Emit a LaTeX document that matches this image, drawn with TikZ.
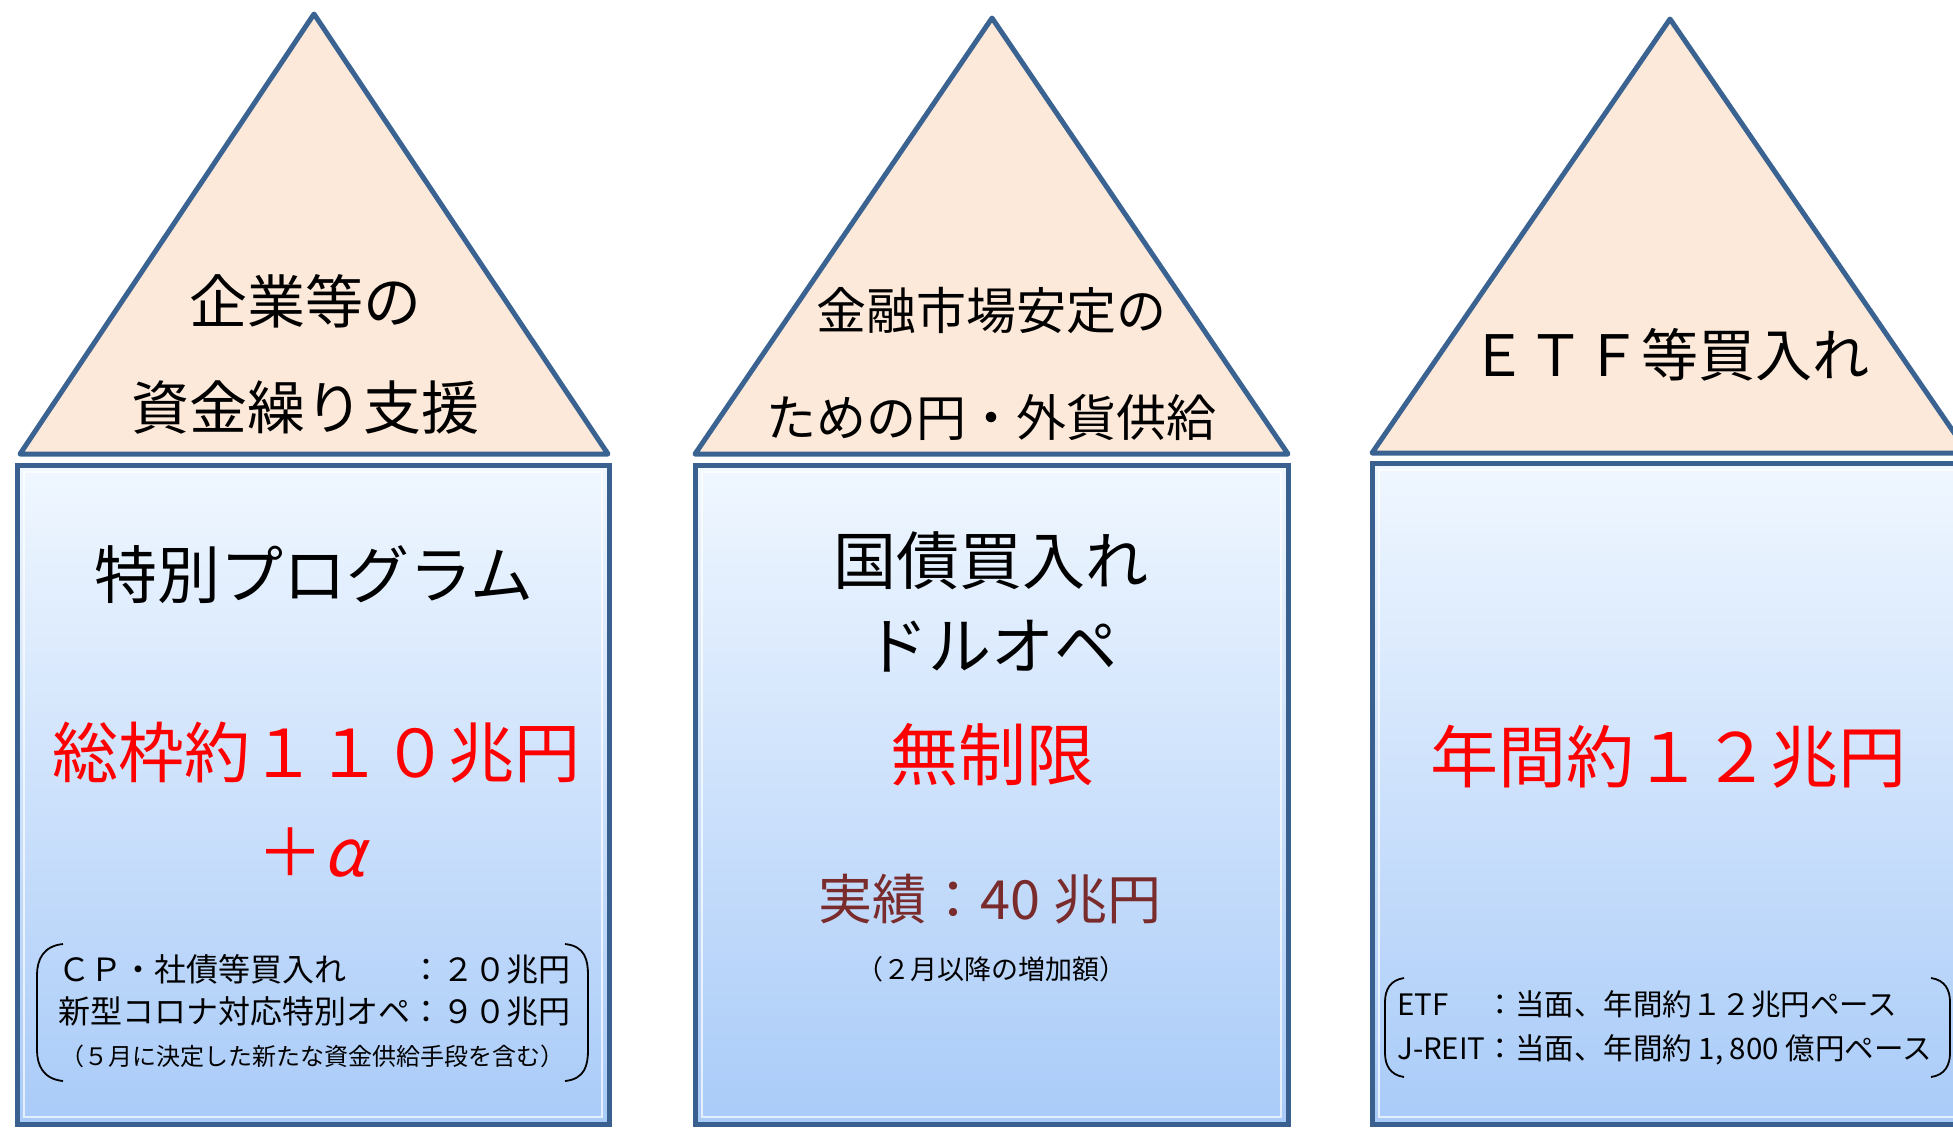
\documentclass[tikz,border=0pt]{standalone}
\usepackage{fontspec}
\newfontfamily\cjk{Noto Sans CJK JP}
\newfontfamily\cjkslant{Noto Sans CJK JP}[FakeSlant=0.25]
\usetikzlibrary{calc}
\definecolor{roofpink}{HTML}{FDE9D9}
\definecolor{roofline}{HTML}{3B6392}
\definecolor{pillartop}{HTML}{F0F7FF}
\definecolor{pillarbot}{HTML}{A9CBF8}
\definecolor{pillarline}{HTML}{3A6090}
\definecolor{amountred}{HTML}{FF0000}
\definecolor{resultred}{HTML}{7A2B2B}
\tikzset{
  roof/.style={fill=roofpink, draw=roofline, line width=5pt, line join=round},
  pillar/.style={top color=pillartop, bottom color=pillarbot, draw=pillarline, line width=5pt},
  bevel/.style={draw=white, line width=2pt, opacity=.7},
  brace/.style={draw=black, line width=1.8pt},
  txt/.style 2 args={inner sep=0pt, align=center, font={\cjk\fontsize{#1}{#2}\selectfont}}
}

\begin{document}
\begin{tikzpicture}[x=1pt,y=-1pt]
  \useasboundingbox (0,0) rectangle (1953,1128);
  \clip (0,0) rectangle (1953,1128);

  % roofs
  \draw[roof] (20,454) -- (314,14) -- (608,454) -- cycle;
  \draw[roof] (695,454) -- (992,18) -- (1288,454) -- cycle;
  \draw[roof] (1372,453) -- (1670,19) -- (1968,453) -- cycle;

  % pillars
  \draw[pillar] (17,465) rectangle (609,1124);
  \draw[pillar] (695,465) rectangle (1288,1124);
  \draw[pillar] (1372,463) rectangle (1980,1124);
  \draw[bevel] (24,472) rectangle (602,1117);
  \draw[bevel] (702,472) rectangle (1281,1117);
  \draw[bevel] (1379,470) rectangle (1980,1117);

  % roof texts
  \node[txt={58}{106}] (aim1) at (305,354) {企業等の\\資金繰り支援};
  \node[txt={50}{107}] (aim2) at (991,364) {金融市場安定の\\ための円・外貨供給};
  \node[txt={57}{57}] (aim3) at (1670,355) {ＥＴＦ等買入れ};

  % left pillar
  \node[txt={63}{63}] (prog) at (314,575) {特別プログラム};
  \node[txt={66}{66}, text=amountred] (size1) at (316,753) {総枠約１１０兆円};
  \node[txt={66}{66}, text=amountred] (plus1) at (311,853) {＋{\cjkslant α}};
  \node[txt={32}{42}, align=left] (list1) at (314,990)
    {\makebox[11em][l]{ＣＰ・社債等買入れ}：２０兆円\\新型コロナ対応特別オペ：９０兆円};
  \node[txt={24}{24}] (note1) at (312,1056) {（５月に決定した新たな資金供給手段を含む）};
  \draw[brace] (63,944) .. controls (43,946) and (37,960) .. (37,975) -- (37,1050)
    .. controls (37,1065) and (43,1079) .. (63,1081);
  \draw[brace] (565,944) .. controls (585,946) and (588,960) .. (588,975) -- (588,1050)
    .. controls (588,1065) and (585,1079) .. (565,1081);

  % middle pillar
  \node[txt={63}{85}] (prog2) at (991,602) {国債買入れ\\ドルオペ};
  \node[txt={68}{68}, text=amountred] (size2) at (992,755) {無制限};
  \node[txt={54}{54}, text=resultred] (result2) at (990,899) {実績：40 兆円};
  \node[txt={27}{27}] (note2) at (991,969) {（２月以降の増加額）};

  % right pillar
  \node[txt={68}{68}, text=amountred] (size3) at (1668,757) {年間約１２兆円};
  \node[txt={29.5}{44}, align=left, anchor=west] (list3) at (1397,1028)
    {\rlap{ETF}\phantom{J-REIT}：当面、年間約１２兆円ペース\\J-REIT：当面、年間約 1, 800 億円ペース};
  \draw[brace] (1404,978) .. controls (1390,980) and (1385,990) .. (1385,1002) -- (1385,1053)
    .. controls (1385,1065) and (1390,1075) .. (1404,1077);
  \draw[brace] (1931,978) .. controls (1945,980) and (1950,990) .. (1950,1002) -- (1950,1053)
    .. controls (1950,1065) and (1945,1075) .. (1931,1077);
\end{tikzpicture}
\end{document}
